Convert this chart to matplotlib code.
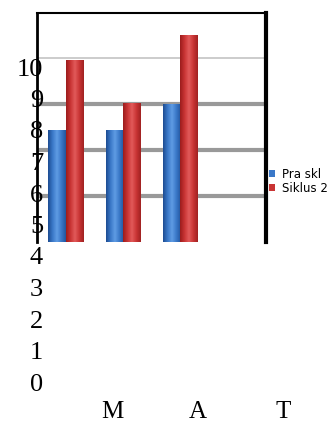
import numpy as np
import matplotlib.pyplot as plt
from matplotlib.colors import LinearSegmentedColormap
from matplotlib.patches import Patch

plt.rcParams['font.family'] = ['Liberation Serif', 'DejaVu Serif']

# data batang (skala sumbu 0-5)
pra_siklus = [2.43, 2.43, 3.0]
siklus_2 = [3.96, 3.03, 4.5]
nama_seri = ['Pra skl', 'Siklus 2']
garis_grid = [1, 2, 3, 4]
angka_kiri = list(range(0, 11))
label_bawah = ['M', 'A', 'T']

W, H = 330, 423
fig = plt.figure(figsize=(W / 100, H / 100), dpi=100)


def kotak(x0, y0, x1, y1):
    # posisi axes dalam piksel (dari kiri atas)
    return [x0 / W, 1 - y1 / H, (x1 - x0) / W, (y1 - y0) / H]


ax = fig.add_axes(kotak(37, 13, 266, 242))

warna = {
    'biru': ['#1d4c92', '#3a78c8', '#5f9ce4', '#3a78c8', '#23569e'],
    'merah': ['#9c1c1c', '#c93434', '#e25a5a', '#c93434', '#a02222'],
}
lebar = 0.3
x = np.arange(len(pra_siklus))
b1 = ax.bar(x - lebar / 2, pra_siklus, lebar, color='#3a78c8', zorder=3,
            edgecolor='white', linewidth=0.6, linestyle=':')
b2 = ax.bar(x + lebar / 2, siklus_2, lebar, color='#c93434', zorder=3,
            edgecolor='white', linewidth=0.6, linestyle=':')

# efek silinder: gradasi horizontal dipotong sesuai bentuk batang
grad = np.linspace(0, 1, 64).reshape(1, -1)
for bars, key in [(b1, 'biru'), (b2, 'merah')]:
    cmap = LinearSegmentedColormap.from_list(key, warna[key])
    for p in bars:
        x0, y0 = p.get_x(), p.get_y()
        im = ax.imshow(grad, cmap=cmap, aspect='auto', zorder=3.5,
                       extent=[x0, x0 + p.get_width(), y0, y0 + p.get_height()])
        im.set_clip_path(p)

for g in garis_grid:
    if g < 4:
        ax.axhline(g, color='#999999', lw=3, zorder=1)
    else:
        ax.axhline(g, color='#c4c4c4', lw=1.2, zorder=1)

ax.set_xlim(-0.5, 3.5)
ax.set_ylim(0, 4.98)
ax.set_xticks([])
ax.set_yticks([])
ax.spines['bottom'].set_visible(False)
ax.spines['left'].set_linewidth(2)
ax.spines['top'].set_linewidth(1.5)
ax.spines['right'].set_linewidth(3)

# kolom angka di kiri
ax_num = fig.add_axes(kotak(43, 13, 44, 423))
ax_num.set_ylim((382 - 423) / 31.5, (382 - 13) / 31.5)
ax_num.set_yticks(angka_kiri)
ax_num.set_yticklabels([str(a) for a in angka_kiri])
ax_num.tick_params(axis='y', length=0, pad=0, labelsize=19)
ax_num.set_xticks([])
ax_num.patch.set_visible(False)
for s in ax_num.spines.values():
    s.set_visible(False)

# label kategori di bawah
ax_cat = fig.add_axes(kotak(69.25, 380, 325.75, 400))
ax_cat.set_xlim(-0.5, 2.5)
ax_cat.set_xticks(range(len(label_bawah)))
ax_cat.set_xticklabels(label_bawah)
ax_cat.tick_params(axis='x', length=0, pad=1, labelsize=18)
ax_cat.set_yticks([])
ax_cat.patch.set_visible(False)
for s in ax_cat.spines.values():
    s.set_visible(False)

handles = [Patch(facecolor='#3a78c8'), Patch(facecolor='#c93434')]
fig.legend(handles, nama_seri, loc='upper left',
           bbox_to_anchor=(269 / W, 1 - 168 / H), frameon=False,
           prop={'family': 'DejaVu Sans', 'size': 8.5},
           handlelength=0.5, handleheight=0.5, handletextpad=0.6,
           labelspacing=0.05, borderpad=0, borderaxespad=0)

fig.savefig('out.png', dpi=100)
